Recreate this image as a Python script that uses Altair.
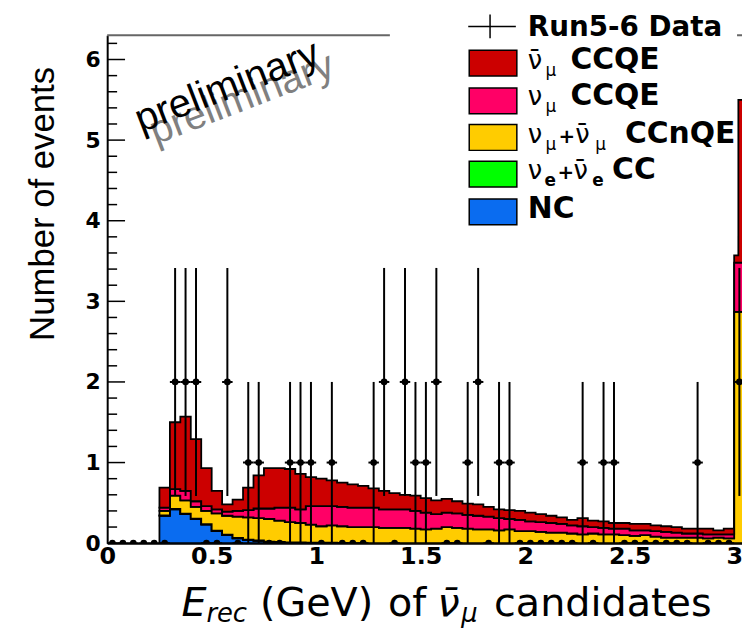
import math
import altair as alt
import pandas as pd

# ---------------- data ----------------
# MC stacked histogram: lower bin edges (GeV); last two are the overflow region
mc_lo = [0.25, 0.30, 0.35, 0.40, 0.45, 0.50, 0.55, 0.60, 0.65, 0.70,
         0.75, 0.80, 0.85, 0.90, 0.95, 1.00, 1.05, 1.10, 1.15, 1.20,
         1.25, 1.30, 1.35, 1.40, 1.45, 1.50, 1.55, 1.60, 1.65, 1.70,
         1.75, 1.80, 1.85, 1.90, 1.95, 2.00, 2.05, 2.10, 2.15, 2.20,
         2.25, 2.30, 2.35, 2.40, 2.45, 2.50, 2.55, 2.60, 2.65, 2.70,
         2.75, 2.80, 2.85, 2.90, 2.95, 3.00, 3.02]
mc_last_edge = 3.10

mc_nc = [0.34, 0.42, 0.36, 0.30, 0.23, 0.15, 0.10, 0.06, 0.04, 0.03,
         0.02, 0.015, 0.01, 0.01, 0.008, 0.006, 0.005, 0.004, 0, 0,
         0, 0, 0, 0, 0, 0, 0, 0, 0, 0,
         0, 0, 0, 0, 0, 0, 0, 0, 0, 0,
         0, 0, 0, 0, 0, 0, 0, 0, 0, 0,
         0, 0, 0, 0, 0, 0, 0]
mc_nue = [0.005, 0.005, 0.005, 0.005, 0.005, 0.005, 0.005, 0.005, 0.005, 0.005,
          0, 0, 0, 0, 0, 0, 0, 0, 0, 0,
          0, 0, 0, 0, 0, 0, 0, 0, 0, 0,
          0, 0, 0, 0, 0, 0, 0, 0, 0, 0,
          0, 0, 0, 0, 0, 0, 0, 0, 0, 0,
          0, 0, 0, 0, 0, 0, 0]
mc_ccnqe = [0.055, 0.165, 0.165, 0.145, 0.165, 0.215, 0.235, 0.265, 0.275, 0.275,
            0.28, 0.265, 0.25, 0.24, 0.222, 0.204, 0.215, 0.206, 0.20, 0.20,
            0.20, 0.19, 0.19, 0.19, 0.18, 0.17, 0.18, 0.20, 0.19, 0.18,
            0.17, 0.17, 0.16, 0.17, 0.15, 0.15, 0.14, 0.13, 0.13, 0.12,
            0.11, 0.12, 0.11, 0.11, 0.10, 0.09, 0.10, 0.08, 0.07, 0.07,
            0.07, 0.07, 0.06, 0.07, 0.06, 2.87, 2.87]
mc_numu_ccqe = [0.04, 0.08, 0.12, 0.07, 0.06, 0.05, 0.05, 0.07, 0.09, 0.12,
                0.13, 0.16, 0.18, 0.17, 0.23, 0.25, 0.24, 0.24, 0.24, 0.24,
                0.24, 0.23, 0.23, 0.23, 0.22, 0.21, 0.18, 0.18, 0.18, 0.17,
                0.17, 0.16, 0.15, 0.13, 0.14, 0.12, 0.12, 0.12, 0.11, 0.10,
                0.10, 0.08, 0.08, 0.07, 0.08, 0.07, 0.06, 0.07, 0.07, 0.06,
                0.05, 0.05, 0.05, 0.04, 0.05, 0.61, 0.61]
mc_numubar_ccqe = [0.25, 0.83, 0.92, 0.77, 0.47, 0.23, 0.09, 0.14, 0.28, 0.41,
                   0.50, 0.49, 0.48, 0.44, 0.36, 0.34, 0.32, 0.30, 0.29, 0.27,
                   0.24, 0.23, 0.20, 0.18, 0.19, 0.18, 0.17, 0.17, 0.15, 0.14,
                   0.14, 0.12, 0.11, 0.11, 0.11, 0.11, 0.10, 0.09, 0.08, 0.07,
                   0.10, 0.08, 0.08, 0.07, 0.07, 0.08, 0.08, 0.07, 0.07, 0.07,
                   0.06, 0.06, 0.07, 0.05, 0.07, 0.09, 2.02]

comp_names = ["NC", "nue_CC", "CCnQE", "numu_CCQE", "numubar_CCQE"]
comp_colors = ["#0a6cf0", "#00ff00", "#ffcc00", "#ff0066", "#cc0000"]

# Run5-6 data: bin centres (0.05 GeV bins) and counts; last is overflow
data_x = [0.025, 0.075, 0.125, 0.175, 0.225, 0.275, 0.325, 0.375, 0.425, 0.475,
          0.525, 0.575, 0.625, 0.675, 0.725, 0.775, 0.825, 0.875, 0.925, 0.975,
          1.025, 1.075, 1.125, 1.175, 1.225, 1.275, 1.325, 1.375, 1.425, 1.475,
          1.525, 1.575, 1.625, 1.675, 1.725, 1.775, 1.825, 1.875, 1.925, 1.975,
          2.025, 2.075, 2.125, 2.175, 2.225, 2.275, 2.325, 2.375, 2.425, 2.475,
          2.525, 2.575, 2.625, 2.675, 2.725, 2.775, 2.825, 2.875, 2.925, 2.975,
          3.025]
data_n = [0, 0, 0, 0, 0, 0, 2, 2, 2, 0,
          0, 2, 0, 1, 1, 0, 0, 1, 1, 1,
          0, 1, 0, 0, 0, 1, 2, 0, 2, 1,
          1, 2, 0, 0, 1, 2, 0, 1, 1, 0,
          0, 0, 0, 0, 0, 1, 0, 1, 1, 0,
          0, 0, 0, 0, 0, 0, 1, 0, 0, 0,
          2]
data_halfwidth = 0.025

x_tick_values = [0, 0.5, 1, 1.5, 2, 2.5, 3]
y_tick_values = [0, 1, 2, 3, 4, 5, 6]
y_minor_values = [0.2, 0.4, 0.6, 0.8, 1.2, 1.4, 1.6, 1.8, 2.2, 2.4, 2.6, 2.8,
                  3.2, 3.4, 3.6, 3.8, 4.2, 4.4, 4.6, 4.8, 5.2, 5.4, 5.6, 5.8, 6.2]
y_max = 6.3
x_max = 3.0375

# ---------------- tables ----------------
rows = []
series = [mc_nc, mc_nue, mc_ccnqe, mc_numu_ccqe, mc_numubar_ccqe]
for k, (name, vals) in enumerate(zip(comp_names, series)):
    for x, v in zip(mc_lo + [mc_last_edge], vals + [vals[-1]]):
        rows.append({"x": x, "v": v, "comp": name, "k": k})
mc = pd.DataFrame(rows)

pts = pd.DataFrame({"x": data_x, "n": data_n})
pts["xlo"] = pts["x"] - data_halfwidth
pts["xhi"] = pts["x"] + data_halfwidth
pts["lo"] = pts["n"] - pts["n"].apply(math.sqrt)
pts["hi"] = pts["n"] + pts["n"].apply(math.sqrt)
pts_nz = pts[pts["n"] > 0]

W, H = 640, 512
xs = alt.Scale(domain=[0, x_max], nice=False, zero=False)
ys = alt.Scale(domain=[0, y_max], nice=False, zero=False)

XAX = alt.Axis(values=x_tick_values, format="~g", title=None, grid=False, ticks=False,
               labelFont="DejaVu Sans", labelFontWeight="bold", labelFontSize=24,
               labelColor="black", labelPadding=1, labelFlush=False, labelOverlap=False,
               domainColor="black", domainWidth=2)
YAX = alt.Axis(values=y_tick_values, format="d", title=None, grid=False, ticks=False,
               labelFont="DejaVu Sans", labelFontWeight="bold", labelFontSize=22,
               labelColor="black", labelPadding=7, labelOverlap=False,
               domainColor="black", domainWidth=2)

# ---------------- layers ----------------
areas = alt.Chart(mc).mark_area(
    interpolate="step-after", stroke="black", strokeWidth=1.8, clip=True
).encode(
    x=alt.X("x:Q", scale=xs, axis=XAX),
    y=alt.Y("v:Q", stack="zero", scale=ys, axis=YAX),
    color=alt.Color("comp:N", scale=alt.Scale(domain=comp_names, range=comp_colors), legend=None),
    order=alt.Order("k:Q", sort="ascending"),
)

top_frame = alt.Chart(pd.DataFrame({"y": [y_max]})).mark_rule(
    color="#666666", strokeWidth=2).encode(
    y=alt.Y("y:Q", scale=ys, axis=YAX), x=alt.value(0), x2=alt.value(W))

major_ticks = alt.Chart(pd.DataFrame({"y": y_tick_values})).mark_rule(
    color="black", strokeWidth=1.5).encode(
    y=alt.Y("y:Q", scale=ys, axis=YAX), x=alt.value(0), x2=alt.value(18))
minor_ticks = alt.Chart(pd.DataFrame({"y": y_minor_values})).mark_rule(
    color="black", strokeWidth=1.5).encode(
    y=alt.Y("y:Q", scale=ys, axis=YAX), x=alt.value(0), x2=alt.value(10))

ebar_v = alt.Chart(pts_nz).mark_rule(color="black", strokeWidth=2, clip=True).encode(
    x=alt.X("x:Q", scale=xs, axis=XAX),
    y=alt.Y("lo:Q", scale=ys, axis=YAX), y2="hi:Q")
ebar_h = alt.Chart(pts).mark_rule(color="black", strokeWidth=2, clip=True).encode(
    x=alt.X("xlo:Q", scale=xs, axis=XAX), x2="xhi:Q",
    y=alt.Y("n:Q", scale=ys, axis=YAX))
markers = alt.Chart(pts).mark_point(
    filled=True, shape="circle", size=45, color="black", opacity=1, clip=True).encode(
    x=alt.X("x:Q", scale=xs, axis=XAX), y=alt.Y("n:Q", scale=ys, axis=YAX))

one = pd.DataFrame({"a": [0]})


def ptext(t, px, py, **kw):
    return alt.Chart(one).mark_text(text=t, align="left", baseline="alphabetic", **kw).encode(
        x=alt.value(px), y=alt.value(py))


def prule(**enc):
    return alt.Chart(one).mark_rule(color="black", strokeWidth=1.5).encode(
        **{k: alt.value(v) for k, v in enc.items()})


# legend (pixel space)
legend_layers = [
    alt.Chart(one).mark_rect(color="white").encode(
        x=alt.value(285), x2=alt.value(635), y=alt.value(-33), y2=alt.value(203)),
    prule(x=364, x2=412, y=-9),
    prule(x=386, y=-21, y2=3),
]
leg_fill = ["#cc0000", "#ff0066", "#ffcc00", "#00ff00", "#0a6cf0"]
leg_top = [15, 53, 90, 127, 165]
for f, t in zip(leg_fill, leg_top):
    legend_layers.append(alt.Chart(one).mark_rect(
        fill=f, stroke="black", strokeWidth=1.5).encode(
        x=alt.value(365), x2=alt.value(413), y=alt.value(t), y2=alt.value(t + 26)))

BOLD = dict(font="DejaVu Sans", fontWeight="bold", color="black")
REG = dict(font="DejaVu Sans", color="black")
nu, nubar, mu = "\u03bd", "\u03bd\u0304", "\u03bc"

legend_texts = [
    ptext("Run5-6 Data", 424, 1, fontSize=28, **BOLD),
    ptext(nubar, 424, 34, fontSize=26, **REG), ptext(mu, 442, 41, fontSize=17, **REG),
    ptext("CCQE", 467, 34, fontSize=30, **BOLD),
    ptext(nu, 424, 70, fontSize=26, **REG), ptext(mu, 442, 77, fontSize=17, **REG),
    ptext("CCQE", 467, 70, fontSize=30, **BOLD),
    ptext(nu, 424, 109, fontSize=26, **REG), ptext(mu, 442, 116, fontSize=17, **REG),
    ptext("+", 455, 109, fontSize=20, **BOLD),
    ptext(nubar, 472, 109, fontSize=26, **REG), ptext(mu, 492, 116, fontSize=17, **REG),
    ptext("CCnQE", 522, 109, fontSize=30, **BOLD),
    ptext(nu, 424, 145, fontSize=26, **REG), ptext("e", 441, 152, fontSize=17, **BOLD),
    ptext("+", 454, 145, fontSize=20, **BOLD),
    ptext(nubar, 470, 145, fontSize=26, **REG), ptext("e", 489, 152, fontSize=17, **BOLD),
    ptext("CC", 509, 145, fontSize=30, **BOLD),
    ptext("NC", 424, 184, fontSize=30, **BOLD),
]

# axis titles
title_layers = [
    ptext("E", 75, 585, fontSize=40, fontStyle="italic", **REG),
    ptext("rec", 100, 591, fontSize=26, fontStyle="italic", **REG),
    ptext("(GeV)", 154, 585, fontSize=40, **REG),
    ptext("of", 283, 585, fontSize=40, **REG),
    ptext(nubar, 333, 585, fontSize=40, fontStyle="italic", **REG),
    ptext(mu, 357, 591, fontSize=26, fontStyle="italic", **REG),
    ptext("candidates", 390, 585, fontSize=40, **REG),
    alt.Chart(one).mark_text(
        text="Number of events", angle=270, align="center", baseline="alphabetic",
        font="Liberation Sans", fontSize=35, color="black").encode(
        x=alt.value(-54), y=alt.value(170)),
    alt.Chart(one).mark_text(
        text="preliminary", angle=339, align="center", baseline="middle",
        font="Liberation Sans", fontSize=40, color="#808080").encode(
        x=alt.value(136), y=alt.value(64)),
    alt.Chart(one).mark_text(
        text="preliminary", angle=339, align="center", baseline="middle",
        font="Liberation Sans", fontSize=40, color="black").encode(
        x=alt.value(121), y=alt.value(52)),
]

chart = alt.layer(
    areas, top_frame, major_ticks, minor_ticks,
    ebar_v, ebar_h, markers,
    *legend_layers, *legend_texts, *title_layers,
).properties(
    width=W, height=H,
    autosize=alt.AutoSizeParams(type="none"),
    padding={"left": 100, "top": 25, "right": 0, "bottom": 85},
    background="white",
).configure_view(stroke=None)

chart.save("out.html", embed_options={"renderer": "svg", "actions": False})
